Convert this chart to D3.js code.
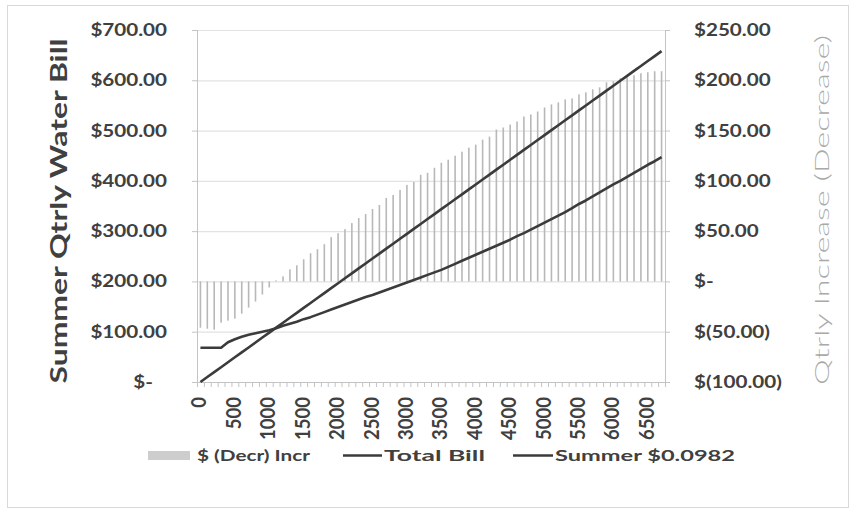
<!DOCTYPE html>
<html>
<head>
<meta charset="utf-8">
<script src="https://cdn.jsdelivr.net/npm/d3@7"></script>
<style>
  html, body { margin: 0; padding: 0; background: #fff; }
  svg { display: block; }
  text { font-family: Lato, "Open Sans", sans-serif; fill: #404040; }
</style>
</head>
<body>
<svg id="chart" width="856" height="516"></svg>
<script>
// Quarterly usage in gallons, one category every 100 gallons
const gallons = [
  0,100,200,300,400,500,600,700,800,900,
  1000,1100,1200,1300,1400,1500,1600,1700,1800,1900,
  2000,2100,2200,2300,2400,2500,2600,2700,2800,2900,
  3000,3100,3200,3300,3400,3500,3600,3700,3800,3900,
  4000,4100,4200,4300,4400,4500,4600,4700,4800,4900,
  5000,5100,5200,5300,5400,5500,5600,5700,5800,5900,
  6000,6100,6200,6300,6400,6500,6600,6700
];

// Quarterly bill under the current tiered schedule (left axis)
const totalBill = [
  68,68,68,68,79,85,90,94,97,100,
  103,107,112,116,120,125,129,134,139,144,
  149,154,159,164,169,173,178,183,188,193,
  198,203,208,213,218,223,229,235,241,247,
  253,259,265,271,277,283,290,296,303,310,
  317,324,331,338,346,354,361,369,377,385,
  393,400,408,416,424,432,439,447
];

// Quarterly bill at a flat summer rate of $0.0982 per gallon (left axis)
const summerBill = [
  0,9.82,19.64,29.46,39.28,49.10,58.92,68.74,78.56,88.38,
  98.20,108.02,117.84,127.66,137.48,147.30,157.12,166.94,176.76,186.58,
  196.40,206.22,216.04,225.86,235.68,245.50,255.32,265.14,274.96,284.78,
  294.60,304.42,314.24,324.06,333.88,343.70,353.52,363.34,373.16,382.98,
  392.80,402.62,412.44,422.26,432.08,441.90,451.72,461.54,471.36,481.18,
  491.00,500.82,510.64,520.46,530.28,540.10,549.92,559.74,569.56,579.38,
  589.20,599.02,608.84,618.66,628.48,638.30,648.12,657.94
];

// Quarterly increase (decrease) in dollars (right axis)
const change = [
  -46,-47,-48,-41,-39,-37,-32,-26,-20,-13,
  -6,1,5,12,16,22,28,32,37,44,
  48,52,58,63,67,72,76,83,86,91,
  96,99,106,108,113,118,121,125,129,133,
  136,141,144,151,153,156,159,164,166,169,
  173,176,178,181,182,186,188,191,193,198,
  199,202,203,205,207,208,209,209
];

const leftTicks  = [0,100,200,300,400,500,600,700];
const rightTicks = [-100,-50,0,50,100,150,200,250];
const xTickLabels = ["0","500","1000","1500","2000","2500","3000","3500",
                     "4000","4500","5000","5500","6000","6500"];

const seriesNames = ["$ (Decr) Incr", "Total Bill", "Summer $0.0982"];
const leftTitle  = "Summer Qtrly  Water Bill";
const rightTitle = "Qtrly Increase (Decrease)";

// ---- layout ----
const svg = d3.select("#chart");
const plot = { left: 197, right: 665, top: 30, bottom: 382 };
const SX = 1.25;              // horizontal stretch applied to lettering

const x = d3.scaleBand().domain(gallons).range([plot.left, plot.right]).padding(0);
const cx = g => x(g) + x.bandwidth() / 2;
const yL = d3.scaleLinear().domain([0, 700]).range([plot.bottom, plot.top]);
const yR = d3.scaleLinear().domain([-100, 250]).range([plot.bottom, plot.top]);

const money = v => v === 0 ? "$-" :
  (v < 0 ? "$(" + d3.format(".2f")(-v) + ")" : "$" + d3.format(".2f")(v));

// outer frame
svg.append("rect")
  .attr("x", 7.5).attr("y", 5.5).attr("width", 841).attr("height", 502)
  .attr("fill", "#fff").attr("stroke", "#d9d9d9");

// horizontal gridlines
svg.append("g").selectAll("line").data(leftTicks.slice(1)).join("line")
  .attr("x1", plot.left).attr("x2", plot.right)
  .attr("y1", d => yL(d) + 0.5).attr("y2", d => yL(d) + 0.5)
  .attr("stroke", "#e2e2e2").attr("stroke-width", 1.2);

// increase / decrease bars
svg.append("g").selectAll("rect").data(gallons).join("rect")
  .attr("x", (g) => cx(g) - 0.8)
  .attr("width", 1.6)
  .attr("y", (g, i) => yR(Math.max(change[i], 0)))
  .attr("height", (g, i) => Math.abs(yR(change[i]) - yR(0)))
  .attr("fill", "#b8b8b8");

// axis lines
const axisColor = "#c4c4c4";
svg.append("line").attr("x1", plot.left + 0.5).attr("x2", plot.left + 0.5)
  .attr("y1", plot.top).attr("y2", plot.bottom).attr("stroke", axisColor);
svg.append("line").attr("x1", plot.right + 0.5).attr("x2", plot.right + 0.5)
  .attr("y1", plot.top).attr("y2", plot.bottom).attr("stroke", axisColor);
svg.append("line").attr("x1", plot.left).attr("x2", plot.right)
  .attr("y1", plot.bottom + 0.5).attr("y2", plot.bottom + 0.5).attr("stroke", axisColor);

// tick marks
svg.append("g").selectAll("line").data(leftTicks).join("line")
  .attr("x1", plot.left - 5).attr("x2", plot.left)
  .attr("y1", d => yL(d) + 0.5).attr("y2", d => yL(d) + 0.5).attr("stroke", axisColor);
svg.append("g").selectAll("line").data(rightTicks).join("line")
  .attr("x1", plot.right).attr("x2", plot.right + 5)
  .attr("y1", d => yR(d) + 0.5).attr("y2", d => yR(d) + 0.5).attr("stroke", axisColor);
svg.append("g").selectAll("line").data(gallons.concat([null])).join("line")
  .attr("x1", (g, i) => (g === null ? plot.right : x(g)) + 0.5)
  .attr("x2", (g, i) => (g === null ? plot.right : x(g)) + 0.5)
  .attr("y1", plot.bottom).attr("y2", plot.bottom + 5).attr("stroke", axisColor);

// bill lines
const line = d3.line().x((d, i) => cx(gallons[i])).y(d => yL(d));
[totalBill, summerBill].forEach(s => {
  svg.append("path").datum(s).attr("d", line)
    .attr("fill", "none").attr("stroke", "#3b3b3b")
    .attr("stroke-width", 2.6).attr("stroke-linejoin", "round");
});

// stretched lettering helper
function label(g, tx, ty, str, opts = {}) {
  const rot = opts.rotate ? " rotate(-90)" : "";
  const t = g.append("text")
    .attr("transform", `translate(${tx},${ty}) scale(${opts.sx || SX},1)${rot}`)
    .attr("text-anchor", opts.anchor || "start")
    .style("font-size", (opts.size || 16) + "px")
    .style("font-weight", opts.weight || 700)
    .text(str);
  if (opts.fill) t.style("fill", opts.fill);
  if (opts.length) t.attr("textLength", opts.length).attr("lengthAdjust", "spacingAndGlyphs");
  return t;
}

// left axis labels
const gl = svg.append("g");
leftTicks.forEach(v => {
  label(gl, v === 0 ? 153 : 167, yL(v) + 6, money(v), { anchor: "end", size: 16.5 });
});

// right axis labels
const gr = svg.append("g");
rightTicks.forEach(v => {
  label(gr, 694, yR(v) + 6, money(v), { anchor: "start", size: 16.5 });
});

// category labels, every fifth category
const gx = svg.append("g");
xTickLabels.forEach(s => {
  const g = +s;
  label(gx, cx(g) + 6, 397, s, { anchor: "end", rotate: true, size: 18.5, sx: 1.1 });
});

// axis titles
label(svg, 67, 211, leftTitle, { anchor: "middle", rotate: true, size: 21, sx: 1.05, length: 345 });
label(svg, 829, 210, rightTitle, { anchor: "middle", rotate: true, size: 20, sx: 1.0,
  weight: 300, fill: "#a9a9a9", length: 350 });

// legend
const lg = svg.append("g");
lg.append("rect").attr("x", 148).attr("y", 451).attr("width", 42).attr("height", 9)
  .attr("fill", "#cdcdcd");
label(lg, 197, 461, seriesNames[0], { size: 15, length: 113 / SX });
lg.append("line").attr("x1", 343).attr("x2", 382).attr("y1", 455.5).attr("y2", 455.5)
  .attr("stroke", "#3b3b3b").attr("stroke-width", 2.6);
label(lg, 384, 461, seriesNames[1], { size: 15, length: 101 / SX });
lg.append("line").attr("x1", 513).attr("x2", 553).attr("y1", 455.5).attr("y2", 455.5)
  .attr("stroke", "#3b3b3b").attr("stroke-width", 2.6);
label(lg, 555, 461, seriesNames[2], { size: 15, length: 180 / SX });
</script>
</body>
</html>
